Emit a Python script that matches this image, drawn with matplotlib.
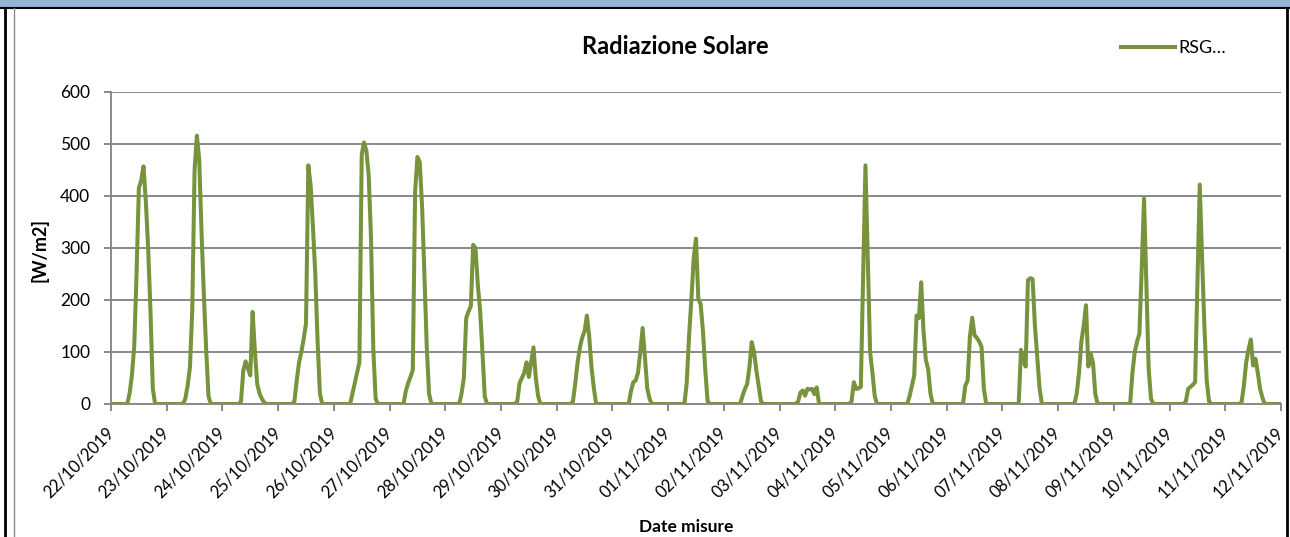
import matplotlib.pyplot as plt
from matplotlib.lines import Line2D
from matplotlib.patches import Rectangle
from matplotlib.transforms import ScaledTranslation

plt.rcParams['font.family'] = ['Lato', 'DejaVu Sans']

# tick labels, one per day (midnight)
date_labels = ['22/10/2019', '23/10/2019', '24/10/2019', '25/10/2019', '26/10/2019',
               '27/10/2019', '28/10/2019', '29/10/2019', '30/10/2019', '31/10/2019',
               '01/11/2019', '02/11/2019', '03/11/2019', '04/11/2019', '05/11/2019',
               '06/11/2019', '07/11/2019', '08/11/2019', '09/11/2019', '10/11/2019',
               '11/11/2019', '12/11/2019']

# hourly global solar radiation [W/m2], one row per day (00:00 .. 23:00)
rsg = [
    0, 0, 0, 0, 0, 0, 0, 0, 20, 55, 110, 250, 415, 430, 457, 390, 300, 180, 30, 0, 0, 0, 0, 0,    # 22/10
    0, 0, 0, 0, 0, 0, 0, 0, 10, 35, 70, 180, 450, 516, 470, 330, 210, 105, 15, 0, 0, 0, 0, 0,     # 23/10
    0, 0, 0, 0, 0, 0, 0, 0, 5, 65, 82, 68, 55, 177, 100, 38, 20, 10, 3, 0, 0, 0, 0, 0,            # 24/10
    0, 0, 0, 0, 0, 0, 0, 5, 45, 80, 100, 125, 155, 459, 420, 340, 250, 120, 20, 0, 0, 0, 0, 0,    # 25/10
    0, 0, 0, 0, 0, 0, 0, 0, 20, 40, 60, 80, 480, 503, 487, 440, 320, 105, 10, 0, 0, 0, 0, 0,      # 26/10
    0, 0, 0, 0, 0, 0, 0, 25, 40, 52, 65, 408, 475, 465, 380, 250, 112, 20, 0, 0, 0, 0, 0, 0,      # 27/10
    0, 0, 0, 0, 0, 0, 0, 20, 50, 165, 178, 188, 306, 300, 230, 180, 100, 15, 0, 0, 0, 0, 0, 0,    # 28/10
    0, 0, 0, 0, 0, 0, 0, 5, 40, 50, 60, 80, 52, 80, 109, 50, 15, 0, 0, 0, 0, 0, 0, 0,             # 29/10
    0, 0, 0, 0, 0, 0, 0, 5, 40, 80, 109, 128, 140, 170, 130, 70, 30, 0, 0, 0, 0, 0, 0, 0,         # 30/10
    0, 0, 0, 0, 0, 0, 0, 0, 25, 42, 45, 60, 100, 146, 90, 30, 10, 0, 0, 0, 0, 0, 0, 0,            # 31/10
    0, 0, 0, 0, 0, 0, 0, 0, 40, 130, 200, 280, 318, 202, 192, 140, 65, 5, 0, 0, 0, 0, 0, 0,       # 01/11
    0, 0, 0, 0, 0, 0, 0, 0, 15, 28, 38, 70, 119, 100, 65, 35, 5, 0, 0, 0, 0, 0, 0, 0,             # 02/11
    0, 0, 0, 0, 0, 0, 0, 0, 5, 22, 26, 16, 29, 28, 29, 19, 32, 0, 0, 0, 0, 0, 0, 0,               # 03/11
    0, 0, 0, 0, 0, 0, 0, 5, 42, 29, 30, 33, 250, 459, 280, 100, 60, 15, 0, 0, 0, 0, 0, 0,         # 04/11
    0, 0, 0, 0, 0, 0, 0, 0, 15, 35, 55, 170, 165, 234, 140, 85, 67, 20, 0, 0, 0, 0, 0, 0,         # 05/11
    0, 0, 0, 0, 0, 0, 0, 0, 35, 45, 130, 166, 132, 127, 120, 110, 30, 0, 0, 0, 0, 0, 0, 0,        # 06/11
    0, 0, 0, 0, 0, 0, 0, 0, 104, 85, 72, 238, 242, 240, 150, 90, 30, 0, 0, 0, 0, 0, 0, 0,         # 07/11
    0, 0, 0, 0, 0, 0, 0, 0, 20, 60, 120, 150, 190, 72, 97, 80, 20, 0, 0, 0, 0, 0, 0, 0,           # 08/11
    0, 0, 0, 0, 0, 0, 0, 0, 60, 100, 120, 135, 260, 395, 230, 67, 10, 0, 0, 0, 0, 0, 0, 0,        # 09/11
    0, 0, 0, 0, 0, 0, 0, 5, 29, 33, 37, 42, 230, 422, 280, 150, 45, 5, 0, 0, 0, 0, 0, 0,          # 10/11
    0, 0, 0, 0, 0, 0, 0, 3, 35, 80, 105, 124, 74, 87, 60, 29, 12, 0, 0, 0, 0, 0, 0, 0,            # 11/11
    0,                                                                                          # 12/11
]

W, H = 1290, 537
green = '#77933C'
grey = '#898989'

fig = plt.figure(figsize=(W / 100, H / 100), dpi=100)

# sheet decorations around the chart
fig.patches.append(Rectangle((0, 1 - 7 / H), 1, 7 / H, transform=fig.transFigure, color='#95B3D7'))
fig.lines.append(Line2D([0, 1], [1 - 8 / H] * 2, transform=fig.transFigure, color='black', lw=1.5))
fig.lines.append(Line2D([5 / W] * 2, [0, 1 - 8 / H], transform=fig.transFigure, color='black', lw=2))
fig.lines.append(Line2D([14 / W] * 2, [0, 1 - 8 / H], transform=fig.transFigure, color='#8c8c8c', lw=1))
fig.lines.append(Line2D([1287 / W] * 2, [0, 1 - 8 / H], transform=fig.transFigure, color='black', lw=2))

ax = fig.add_axes([111 / W, (H - 404) / H, (1281 - 111) / W, (404 - 92) / H])
ax.plot(range(len(rsg)), rsg, color=green, lw=2.9, solid_joinstyle='round', label='RSG…')

ax.set_xlim(0, 504)
ax.set_ylim(0, 600)
ax.set_yticks(range(0, 601, 100))
ax.set_xticks(range(0, 505, 24))
ax.set_xticklabels(date_labels, rotation=45, ha='right', va='center', rotation_mode='anchor')
for lab in ax.get_xticklabels():
    lab.set_transform(lab.get_transform() + ScaledTranslation(4 / 100, 0, fig.dpi_scale_trans))

ax.yaxis.grid(True, color=grey, lw=1.4)
ax.set_axisbelow(True)
for s in ['top', 'right']:
    ax.spines[s].set_visible(False)
for s in ['left', 'bottom']:
    ax.spines[s].set_color(grey)
    ax.spines[s].set_linewidth(1.4)
ax.tick_params(axis='both', length=5, width=1.4, color=grey)
ax.tick_params(axis='y', labelsize=12.5, pad=10)
ax.tick_params(axis='x', labelsize=12, pad=14)

fig.text(675 / W, 1 - 47 / H, 'Radiazione Solare', ha='center', va='center',
         fontsize=17, fontweight='bold')
fig.text(40 / W, 1 - 250 / H, '[W/m2]', ha='center', va='center', rotation=90,
         fontsize=13, fontweight='bold')
fig.text(686 / W, 1 - 527 / H, 'Date misure', ha='center', va='center',
         fontsize=12.5, fontweight='bold')

ax.legend(loc='center left', bbox_to_anchor=(1121 / W, 1 - 48 / H), bbox_transform=fig.transFigure,
          frameon=False, fontsize=13, handlelength=3.0, handletextpad=0.2,
          borderpad=0, borderaxespad=0)

fig.savefig('out.png', dpi=100)
